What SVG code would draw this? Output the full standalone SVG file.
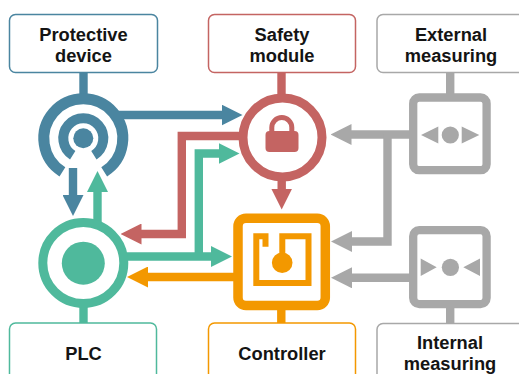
<svg xmlns="http://www.w3.org/2000/svg" width="519" height="374" viewBox="0 0 519 374">
<style>
.box{fill:#fff;stroke-width:1.5}
.lbl{font-family:"Liberation Sans",Arial,sans-serif;font-weight:bold;font-size:18.3px;fill:#141414;text-anchor:middle}
.ln{fill:none;stroke-width:8.4;stroke-linejoin:miter;stroke-linecap:butt}
.blue{stroke:#4a85a0}.red{stroke:#c46462}.green{stroke:#4fb99c}.orange{stroke:#f39800}.gray{stroke:#a8a8a8}
.fblue{fill:#4a85a0}.fred{fill:#c46462}.fgreen{fill:#4fb99c}.forange{fill:#f39800}.fgray{fill:#a8a8a8}
</style>
<defs>
<marker id="ah-blue" viewBox="0 0 21 21" refX="0.5" refY="10.5" markerWidth="21" markerHeight="21" markerUnits="userSpaceOnUse" orient="auto"><path d="M0,0 L21,10.5 L0,21 Z" fill="#4a85a0"/></marker>
<marker id="ah-red" viewBox="0 0 21 21" refX="0.5" refY="10.5" markerWidth="21" markerHeight="21" markerUnits="userSpaceOnUse" orient="auto"><path d="M0,0 L21,10.5 L0,21 Z" fill="#c46462"/></marker>
<marker id="ah-green" viewBox="0 0 21 21" refX="0.5" refY="10.5" markerWidth="21" markerHeight="21" markerUnits="userSpaceOnUse" orient="auto"><path d="M0,0 L21,10.5 L0,21 Z" fill="#4fb99c"/></marker>
<marker id="ah-orange" viewBox="0 0 21 21" refX="0.5" refY="10.5" markerWidth="21" markerHeight="21" markerUnits="userSpaceOnUse" orient="auto"><path d="M0,0 L21,10.5 L0,21 Z" fill="#f39800"/></marker>
<marker id="ah-gray" viewBox="0 0 21 21" refX="0.5" refY="10.5" markerWidth="21" markerHeight="21" markerUnits="userSpaceOnUse" orient="auto"><path d="M0,0 L21,10.5 L0,21 Z" fill="#a8a8a8"/></marker>
</defs>
<rect width="519" height="374" fill="#fff"/>

<g id="connectors">
<path class="ln blue" d="M118,115 H222" marker-end="url(#ah-blue)"/>
<path class="ln blue" d="M73,168 V195.5" marker-end="url(#ah-blue)"/>
<path class="ln green" d="M97.5,222 V191.5" marker-end="url(#ah-green)"/>
<path class="ln red" d="M239,136 H181.8 V234 H141" marker-end="url(#ah-red)"/>
<path class="ln green" d="M127,256.5 H211.5" marker-end="url(#ah-green)"/>
<path class="ln green" d="M198.8,257 V153.5 H219" marker-end="url(#ah-green)"/>
<path class="ln orange" d="M234,277 H147.5" marker-end="url(#ah-orange)"/>
<path class="ln red" d="M281.7,181 V189" marker-end="url(#ah-red)"/>
<path class="ln gray" d="M410,134.5 H351" marker-end="url(#ah-gray)"/>
<path class="ln gray" d="M387.5,134.5 V241.5 H351.5" marker-end="url(#ah-gray)"/>
<path class="ln gray" d="M410,277.8 H351.5" marker-end="url(#ah-gray)"/>
</g>

<g id="protective-device">
<rect class="box blue" x="9.5" y="14.5" width="148" height="58" rx="6"/>
<text class="lbl" x="83.5" y="41.2">Protective</text>
<text class="lbl" x="83.5" y="62">device</text>
<path class="ln blue" d="M83.5,73 V94"/>
<path fill="none" class="blue" stroke-width="11" d="M104.2,171.8 A39.5,39.5 0 1 0 62.4,171.8"/>
<path fill="none" class="blue" stroke-width="10" d="M93.9,155.3 A20,20 0 1 0 72.7,155.3"/>
<circle class="fblue" cx="83.3" cy="138.3" r="10"/>
</g>

<g id="safety-module">
<rect class="box red" x="208.5" y="14.5" width="147" height="58" rx="6"/>
<text class="lbl" x="282" y="41.2">Safety</text>
<text class="lbl" x="282" y="62">module</text>
<path class="ln red" d="M281.5,73 V94"/>
<circle fill="none" class="red" stroke-width="9" cx="282.5" cy="137.5" r="39.5"/>
<path fill="none" class="red" stroke-width="5" d="M271.8,132 V127.5 A10,10 0 0 1 291.8,127.5 V132"/>
<rect class="fred" x="265.5" y="131" width="33" height="21" rx="4"/>
</g>

<g id="external-measuring">
<rect class="box gray" x="377" y="14.5" width="150" height="58" rx="6"/>
<text class="lbl" x="451" y="41.2">External</text>
<text class="lbl" x="451" y="62">measuring</text>
<path class="ln gray" d="M450.2,73 V94"/>
<rect fill="none" class="gray" stroke-width="8.3" x="413.2" y="97.5" width="73.4" height="72.7" rx="6"/>
<path class="fgray" d="M421,135 L438.3,126.5 V143.5 Z M479.3,135 L461.7,126.5 V143.5 Z"/>
<circle class="fgray" cx="450.3" cy="135" r="8.6"/>
</g>

<g id="plc">
<rect class="box green" x="9.5" y="323" width="147" height="60" rx="6"/>
<text class="lbl" x="83.5" y="360">PLC</text>
<path class="ln green" d="M83.5,307 V323"/>
<circle fill="none" class="green" stroke-width="9" cx="83.3" cy="263" r="40.5"/>
<circle class="fgreen" cx="83.3" cy="263.2" r="21.5"/>
</g>

<g id="controller">
<rect class="box orange" x="208.5" y="323" width="147" height="60" rx="6"/>
<text class="lbl" x="282" y="360">Controller</text>
<path class="ln orange" d="M281.3,309 V323"/>
<rect fill="none" class="orange" stroke-width="9.5" x="238" y="218.2" width="87.3" height="87.2" rx="8"/>
<path fill="none" class="orange" stroke-width="6" d="M265.5,246.7 V236.3 H256.3 V283 H308.5 V236.3 H282.3 V256"/>
<circle class="forange" cx="282.2" cy="262.7" r="10.3"/>
</g>

<g id="internal-measuring">
<rect class="box gray" x="377" y="323.5" width="150" height="60" rx="6"/>
<text class="lbl" x="450" y="348.9">Internal</text>
<text class="lbl" x="450" y="369.7">measuring</text>
<path class="ln gray" d="M450.2,307 V324"/>
<rect fill="none" class="gray" stroke-width="8.3" x="413.2" y="230.2" width="73.4" height="73.9" rx="6"/>
<path class="fgray" d="M436.7,267.3 L420.7,258.5 V276.1 Z M463.3,267.3 L480,258.5 V276.1 Z"/>
<circle class="fgray" cx="450.4" cy="267.3" r="8.6"/>
</g>
</svg>
